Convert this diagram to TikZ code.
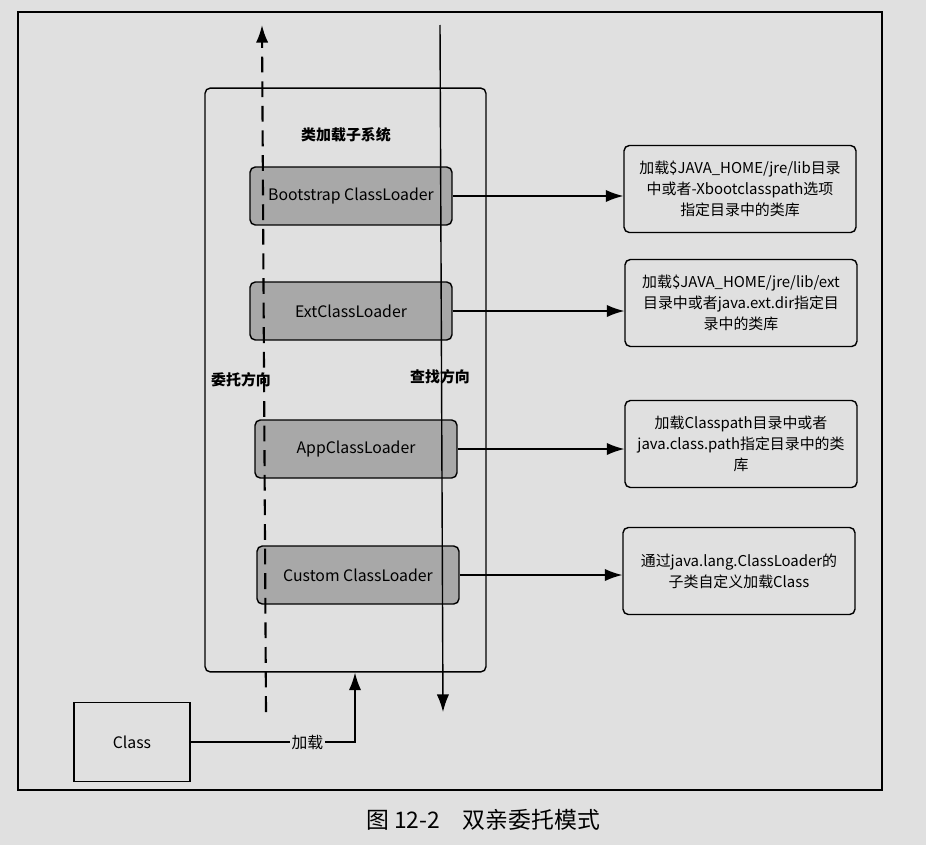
\documentclass[tikz,border=0pt]{standalone}
\usepackage{fontspec}
\setmainfont{Noto Sans CJK SC}
\usetikzlibrary{arrows.meta}
\definecolor{paper}{gray}{0.88}
\definecolor{loaderfill}{gray}{0.66}
\begin{document}
\begin{tikzpicture}[x=0.02cm,y=-0.02cm,>={Latex[length=10pt,width=7pt]},
  loader/.style={draw,thick,rounded corners=3pt,fill=loaderfill,minimum width=4.04cm,minimum height=1.16cm,font=\fontsize{9}{11}\selectfont},
  infobox/.style={draw,thick,rounded corners=3pt,minimum width=4.64cm,minimum height=1.74cm,align=center,font=\fontsize{8.5}{12}\selectfont},
  dirlabel/.style={font=\bfseries\fontsize{8.5}{10}\selectfont}]
  % Page
  \fill[paper] (0,0) rectangle (926,845);
  \useasboundingbox (0,0) rectangle (926,845);
  \draw[thick] (18,12) rectangle (882,790);
  % Class loader subsystem
  \node[draw,thick,rounded corners=3pt,minimum width=5.62cm,minimum height=11.68cm] (subsys) at (345.5,380) {};
  \node[dirlabel] (subsystitle) at (346,135) {类加载子系统};
  % Loaders
  \node[loader] (boot) at (351,196) {Bootstrap ClassLoader};
  \node[loader] (ext) at (351,311) {ExtClassLoader};
  \node[loader] (app) at (356,449) {AppClassLoader};
  \node[loader] (custom) at (358,575) {Custom ClassLoader};
  % Search paths
  \node[infobox] (bootinfo) at (740,189) {加载\$JAVA\_HOME/jre/lib目录\\中或者-Xbootclasspath选项\\指定目录中的类库};
  \node[infobox] (extinfo) at (741,303) {加载\$JAVA\_HOME/jre/lib/ext\\目录中或者java.ext.dir指定目\\录中的类库};
  \node[infobox] (appinfo) at (741,444) {加载Classpath目录中或者\\java.class.path指定目录中的类\\库};
  \node[infobox] (custominfo) at (739,571) {通过java.lang.ClassLoader的\\子类自定义加载Class};
  \draw[->,thick] (boot.east) -- (boot.east -| bootinfo.west);
  \draw[->,thick] (ext.east) -- (ext.east -| extinfo.west);
  \draw[->,thick] (app.east) -- (app.east -| appinfo.west);
  \draw[->,thick] (custom.east) -- (custom.east -| custominfo.west);
  % Delegation and search directions
  \coordinate (delegbot) at (266,712);
  \coordinate (delegtop) at (262,25);
  \coordinate (findtop) at (440,25);
  \coordinate (findbot) at (443,712);
  \draw[->,line width=1.2pt,dash pattern=on 9pt off 5pt] (delegbot) -- (delegtop);
  \draw[->,thick] (findtop) -- (findbot);
  \node[dirlabel] (deleglabel) at (241,380) {委托方向};
  \node[dirlabel] (findlabel) at (440,377) {查找方向};
  % Class
  \node[draw,thick,minimum width=2.32cm,minimum height=1.58cm,font=\fontsize{9}{11}\selectfont] (cls) at (132,742) {Class};
  \draw[->,thick] (cls.east) -| ([xshift=0.19cm]subsys.south) node[pos=0.355,fill=paper,inner sep=1pt,font=\fontsize{9}{11}\selectfont] {加载};
  % Caption
  \node[font=\fontsize{13}{15}\selectfont] (caption) at (483,820) {图 12-2\quad 双亲委托模式};
\end{tikzpicture}
\end{document}
